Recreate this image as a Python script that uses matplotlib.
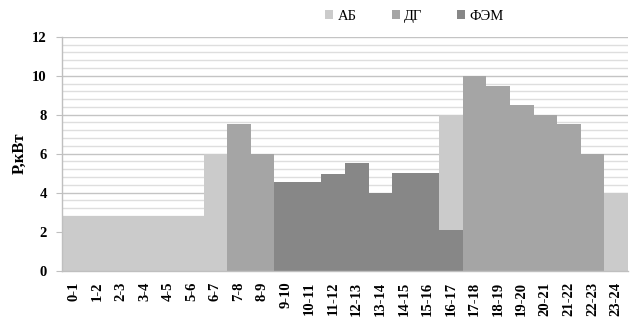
import numpy as np
import matplotlib.pyplot as plt
from matplotlib.ticker import MultipleLocator

plt.rcParams['font.family'] = ['Liberation Serif', 'DejaVu Serif']

# Hourly intervals and power per source (kW)
hours = ['0-1', '1-2', '2-3', '3-4', '4-5', '5-6', '6-7', '7-8', '8-9', '9-10',
         '10-11', '11-12', '12-13', '13-14', '14-15', '15-16', '16-17', '17-18',
         '18-19', '19-20', '20-21', '21-22', '22-23', '23-24']
fem = [0, 0, 0, 0, 0, 0, 0, 0, 0, 4.55, 4.55, 4.95, 5.5, 4.0, 5.0, 5.0, 2.1,
       0, 0, 0, 0, 0, 0, 0]
ab = [2.8, 2.8, 2.8, 2.8, 2.8, 2.8, 6.0, 0, 0, 0, 0, 0, 0, 0, 0, 0, 5.9,
      0, 0, 0, 0, 0, 0, 4.0]
dg = [0, 0, 0, 0, 0, 0, 0, 7.5, 6.0, 0, 0, 0, 0, 0, 0, 0, 0,
      10.0, 9.45, 8.5, 8.0, 7.5, 6.0, 0]

c_ab = '#cbcbcb'
c_dg = '#a5a5a5'
c_fem = '#878787'

fig = plt.figure(figsize=(6.4, 3.28), dpi=100)
ax = fig.add_axes([0.097, 0.175, 0.884, 0.713])

x = np.arange(len(hours))
fem_a = np.array(fem)
ab_a = np.array(ab)
b_fem = ax.bar(x, fem_a, width=1.0, color=c_fem, linewidth=0, zorder=2)
b_ab = ax.bar(x, ab_a, width=1.0, bottom=fem_a, color=c_ab, linewidth=0, zorder=2)
b_dg = ax.bar(x, dg, width=1.0, bottom=fem_a + ab_a, color=c_dg, linewidth=0, zorder=2)

ax.set_xlim(-0.5, len(hours) - 0.5)
ax.set_ylim(0, 12)
ax.yaxis.set_major_locator(MultipleLocator(2))
ax.yaxis.set_minor_locator(MultipleLocator(0.4))
ax.grid(True, axis='y', which='major', color='#c4c4c4', linewidth=1.0, zorder=0)
ax.grid(True, axis='y', which='minor', color='#dedede', linewidth=1.0, zorder=0)
ax.set_axisbelow(True)

ax.set_xticks(x)
ax.set_xticklabels(hours, rotation=90, fontsize=10.5, fontweight='bold')
ax.tick_params(axis='x', length=0, pad=8)
ax.tick_params(axis='y', which='major', length=4, color='#bfbfbf', labelsize=10.5, pad=7)
ax.tick_params(axis='y', which='minor', length=0)
for lbl in ax.get_yticklabels():
    lbl.set_fontweight('bold')

for s in ['top', 'right']:
    ax.spines[s].set_visible(False)
for s in ['left', 'bottom']:
    ax.spines[s].set_color('#bfbfbf')
    ax.spines[s].set_linewidth(1.0)

ax.set_ylabel('P,кВт', fontsize=12, fontweight='bold', labelpad=3)

fig.legend([b_ab, b_dg, b_fem], ['АБ', 'ДГ', 'ФЭМ'], loc='upper center',
           bbox_to_anchor=(0.648, 1.01), ncol=3, frameon=False, fontsize=10.5,
           handlelength=0.55, handleheight=0.55, handletextpad=0.3, columnspacing=2.4)

plt.savefig('out.png', dpi=100)
